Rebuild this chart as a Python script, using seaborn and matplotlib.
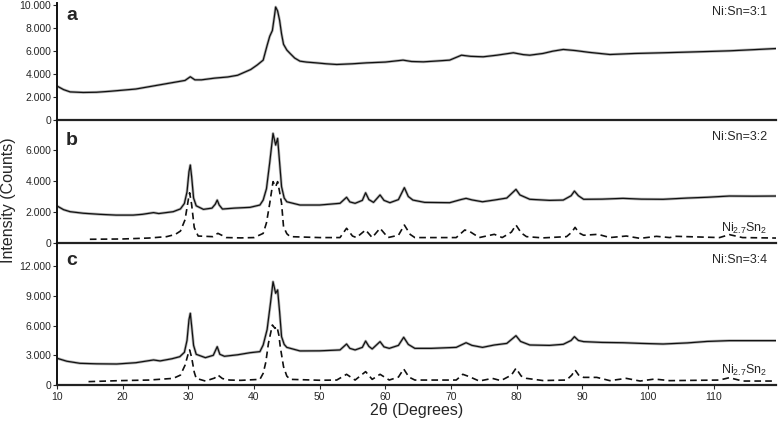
import matplotlib
matplotlib.use("Agg")
import matplotlib.pyplot as plt
import seaborn as sns
import pandas as pd
from matplotlib.ticker import FuncFormatter, MultipleLocator

# --- data (2theta in degrees, intensity in counts) ---
a_theta = [10.0, 11.0, 12.0, 14.0, 16.0, 18.0, 20.0, 22.0, 24.0, 26.0, 28.0, 29.5, 30.3, 31.0,
           32.0, 34.0, 36.0, 37.5, 38.5, 39.5, 40.5, 41.4, 42.0, 42.4, 42.8, 43.1, 43.3, 43.6,
           43.9, 44.2, 44.5, 45.0, 45.5, 46.2, 47.0, 48.0, 49.5, 51.0, 52.6, 55.0, 57.1, 60.0,
           62.7, 64.0, 65.8, 68.0, 69.8, 71.6, 73.0, 74.9, 77.0, 79.5, 81.0, 82.0, 84.0, 85.5,
           87.1, 89.0, 91.0, 94.2, 98.0, 102.3, 106.0, 109.0, 112.4, 116.0, 119.5]
a_counts = [2960, 2650, 2450, 2400, 2420, 2500, 2600, 2700, 2900, 3100, 3300, 3450, 3770, 3500,
            3500, 3650, 3750, 3900, 4150, 4400, 4800, 5220, 6500, 7300, 7800, 9000, 9850, 9500,
            8700, 7500, 6600, 6100, 5800, 5400, 5130, 5050, 4980, 4900, 4840, 4900, 4980, 5050,
            5220, 5100, 5070, 5150, 5220, 5650, 5550, 5510, 5650, 5860, 5700, 5650, 5800, 6000,
            6150, 6050, 5900, 5710, 5800, 5860, 5920, 5970, 6030, 6130, 6230]

b_theta = [10.0, 11.0, 12.0, 14.0, 16.5, 19.0, 21.6, 23.0, 24.7, 25.5, 27.7, 28.8, 29.4, 29.8,
           30.1, 30.3, 30.5, 30.8, 31.2, 32.3, 33.6, 34.1, 34.4, 34.7, 35.2, 37.0, 39.4, 40.9,
           41.4, 41.9, 42.4, 42.9, 43.3, 43.6, 43.9, 44.2, 44.6, 45.0, 47.0, 50.0, 53.1, 54.1,
           54.6, 55.4, 56.5, 57.0, 57.5, 58.2, 59.2, 59.8, 60.7, 62.0, 62.9, 63.5, 64.2, 66.0,
           69.8, 71.5, 72.3, 73.2, 74.8, 76.6, 78.5, 79.5, 79.9, 80.5, 82.0, 85.0, 87.1, 88.3,
           88.8, 89.4, 90.2, 93.0, 96.2, 99.0, 102.3, 106.0, 109.0, 112.4, 116.0, 119.5]
b_counts = [2390, 2150, 2020, 1920, 1850, 1800, 1800, 1850, 1960, 1900, 2020, 2200, 2550, 3300,
            4600, 5030, 4300, 2900, 2400, 2170, 2250, 2500, 2770, 2450, 2190, 2250, 2300, 2450,
            2770, 3500, 5200, 7070, 6320, 6750, 5200, 3630, 2900, 2660, 2450, 2450, 2560, 2950,
            2650, 2560, 2750, 3240, 2800, 2620, 3100, 2750, 2600, 2800, 3570, 3000, 2770, 2620,
            2600, 2800, 2880, 2780, 2660, 2770, 2900, 3300, 3460, 3100, 2820, 2750, 2770, 3050,
            3350, 3050, 2820, 2830, 2880, 2830, 2820, 2900, 2950, 3030, 3020, 3030]

c_theta = [10.0, 11.5, 13.5, 16.0, 19.1, 22.0, 24.7, 25.7, 27.5, 28.7, 29.4, 29.8, 30.1, 30.3,
           30.5, 30.8, 31.2, 32.6, 33.8, 34.4, 34.8, 35.5, 37.5, 39.4, 40.9, 41.4, 42.0, 42.5,
           42.9, 43.3, 43.6, 43.9, 44.2, 44.6, 45.0, 47.0, 50.0, 53.1, 54.1, 54.6, 55.4, 56.5,
           57.0, 57.5, 58.0, 59.2, 59.8, 60.6, 62.0, 62.8, 63.5, 64.5, 67.0, 70.8, 72.3, 73.2,
           74.8, 76.6, 78.5, 79.4, 79.9, 80.6, 82.0, 85.0, 87.1, 88.3, 88.8, 89.4, 90.2, 93.0,
           96.2, 99.0, 102.3, 106.0, 109.0, 112.4, 116.0, 119.5]
c_counts = [2700, 2400, 2190, 2140, 2120, 2250, 2530, 2430, 2650, 2860, 3300, 4500, 6600, 7240,
            6000, 4000, 3100, 2760, 3000, 3870, 3100, 2900, 3050, 3260, 3370, 4040, 5600, 8200,
            10430, 9260, 9600, 7400, 4880, 4100, 3800, 3440, 3450, 3540, 4140, 3700, 3540, 3800,
            4440, 3900, 3640, 4380, 3850, 3700, 4000, 4820, 4100, 3700, 3700, 3800, 4270, 4000,
            3800, 4040, 4200, 4700, 4980, 4400, 4040, 4000, 4110, 4500, 4880, 4500, 4380, 4300,
            4270, 4200, 4140, 4250, 4400, 4480, 4480, 4480]

# reference pattern Ni2.7Sn2 (dashed), scaled differently in panels b and c
refb_theta = [15.0, 20.0, 24.0, 26.7, 28.0, 28.8, 29.5, 30.0, 30.2, 30.5, 30.9, 31.5, 33.7, 34.5,
              35.8, 38.0, 40.0, 41.4, 41.9, 42.4, 42.9, 43.3, 43.6, 43.9, 44.2, 44.5, 45.0, 45.5,
              50.0, 53.1, 54.1, 55.0, 55.6, 57.0, 58.0, 59.2, 60.4, 62.0, 62.9, 63.8, 64.5, 70.8,
              72.1, 72.9, 74.3, 76.6, 77.8, 79.2, 79.9, 80.7, 81.5, 84.0, 87.6, 88.4, 88.9, 89.5,
              90.2, 92.4, 94.2, 96.7, 98.8, 101.3, 103.3, 104.3, 110.9, 112.4, 114.4, 119.5]
refb_counts = [240, 260, 320, 410, 550, 770, 1500, 2800, 3240, 2500, 1000, 450, 410, 625,
               350, 330, 350, 620, 1300, 2560, 3960, 3630, 3960, 3300, 2560, 1050, 600, 410,
               350, 350, 950, 450, 350, 840, 350, 950, 350, 500, 1160, 550, 350, 350,
               840, 730, 350, 560, 350, 700, 1160, 650, 410, 330, 410, 700, 1010, 650,
               500, 560, 350, 450, 300, 430, 350, 430, 350, 540, 350, 320]

refc_theta = [14.8, 19.5, 24.0, 27.7, 28.8, 29.5, 30.0, 30.2, 30.5, 30.9, 31.2, 32.6, 34.0, 34.5,
              35.2, 36.3, 38.0, 40.9, 41.4, 41.8, 42.2, 42.8, 43.2, 43.5, 43.8, 44.0, 44.5, 45.0,
              45.5, 50.0, 52.6, 54.1, 55.4, 57.0, 58.0, 59.2, 60.6, 62.0, 62.8, 63.6, 64.5, 70.8,
              71.8, 72.8, 74.3, 76.3, 77.6, 79.2, 79.9, 80.7, 81.5, 84.0, 87.6, 88.4, 88.9, 89.5,
              90.2, 92.2, 94.2, 96.7, 98.8, 101.0, 103.3, 110.9, 112.4, 114.4, 119.5]
refc_counts = [340, 440, 500, 670, 1000, 2000, 3200, 3540, 2800, 1300, 670, 400, 700, 1010,
               650, 500, 470, 570, 1180, 2300, 4210, 6060, 5720, 5890, 5000, 3870, 1850, 900,
               570, 480, 500, 1080, 500, 1350, 570, 1080, 500, 800, 1620, 800, 500, 500,
               1080, 840, 400, 670, 440, 1000, 1690, 900, 670, 450, 500, 1000, 1520, 950,
               770, 770, 440, 670, 400, 600, 440, 500, 740, 400, 400]

panel_letters = ["a", "b", "c"]
ratio_labels = ["Ni:Sn=3:1", "Ni:Sn=3:2", "Ni:Sn=3:4"]
phase_label = r"Ni$_{2.7}$Sn$_{2}$"
x_ticks = [10, 20, 30, 40, 50, 60, 70, 80, 90, 100, 110]

sns.set_style("ticks")
plt.rcParams["font.family"] = ["Liberation Sans", "DejaVu Sans"]
plt.rcParams["mathtext.default"] = "regular"

W, H = 778, 426
fig = plt.figure(figsize=(W / 100, H / 100), dpi=100)

# panel boxes in pixels: (top, bottom), y-limit, y-tick step
boxes = [(3, 120, 10200, 2000), (120, 243, 7935, 2000), (243, 385, 14340, 3000)]
left_px, right_px = 57, 776
letter_base = [20, 145, 265]   # baselines (px from top) of a/b/c
ratio_base = [15, 140, 263]    # baselines of the Ni:Sn labels
phase_base = [232, 374]        # baselines of the Ni2.7Sn2 labels (panels b, c)
label_right = 767

def dot_thousands(v, pos):
    return f"{v:,.0f}".replace(",", ".")

axes = []
for top, bot, ymax, step in boxes:
    ax = fig.add_axes([left_px / W, 1 - bot / H, (right_px - left_px) / W, (bot - top) / H])
    ax.set_xlim(10, 119.5)
    ax.set_ylim(0, ymax)
    ax.yaxis.set_major_locator(MultipleLocator(step))
    ax.yaxis.set_major_formatter(FuncFormatter(dot_thousands))
    ax.patch.set_alpha(0)
    for s in ["top", "right"]:
        ax.spines[s].set_visible(False)
    ax.spines["left"].set_linewidth(1.4)
    ax.spines["bottom"].set_linewidth(1.6)
    ax.spines["left"].set_color("#111111")
    ax.spines["bottom"].set_color("#222222")
    ax.tick_params(axis="y", direction="out", length=3, width=0.8, labelsize=7.5, pad=1)
    axes.append(ax)

for ax in axes[:2]:
    ax.tick_params(axis="x", bottom=False, labelbottom=False)
axes[2].set_xticks(x_ticks)
axes[2].tick_params(axis="x", direction="out", length=3, width=0.8, labelsize=7.5, pad=2)

series = [(a_theta, a_counts), (b_theta, b_counts), (c_theta, c_counts)]
for ax, (th, cn) in zip(axes, series):
    df = pd.DataFrame({"theta": th, "counts": cn})
    # light grey halo stands in for the measurement noise band
    sns.lineplot(data=df, x="theta", y="counts", ax=ax, color="#b5b5b5", lw=2.0, sort=False)
    sns.lineplot(data=df, x="theta", y="counts", ax=ax, color="#111111", lw=0.9, sort=False)

for ax, th, cn in [(axes[1], refb_theta, refb_counts), (axes[2], refc_theta, refc_counts)]:
    df = pd.DataFrame({"theta": th, "counts": cn})
    sns.lineplot(data=df, x="theta", y="counts", ax=ax, color="#111111", lw=1.2,
                 linestyle=(0, (4, 2.5)), sort=False)

for ax in axes:
    ax.set_xlabel("")
    ax.set_ylabel("")

for ax, letter, lab, lb, rb in zip(axes, panel_letters, ratio_labels, letter_base, ratio_base):
    fig.text(66 / W, 1 - lb / H, letter, ha="left", va="baseline",
             fontsize=14, fontweight="bold")
    fig.text(label_right / W, 1 - rb / H, lab, ha="right", va="baseline", fontsize=9)

for pb in phase_base:
    fig.text(label_right / W, 1 - pb / H, phase_label, ha="right", va="baseline", fontsize=9)

fig.text((left_px + right_px) / 2 / W, 1 - 411 / H, "2θ (Degrees)", ha="center", va="center",
         fontsize=11.5)
fig.text(9 / W, 1 - 200 / H, "Intensity (Counts)", rotation=90, ha="center", va="center",
         fontsize=11.5)

fig.savefig("out.png", dpi=100)
